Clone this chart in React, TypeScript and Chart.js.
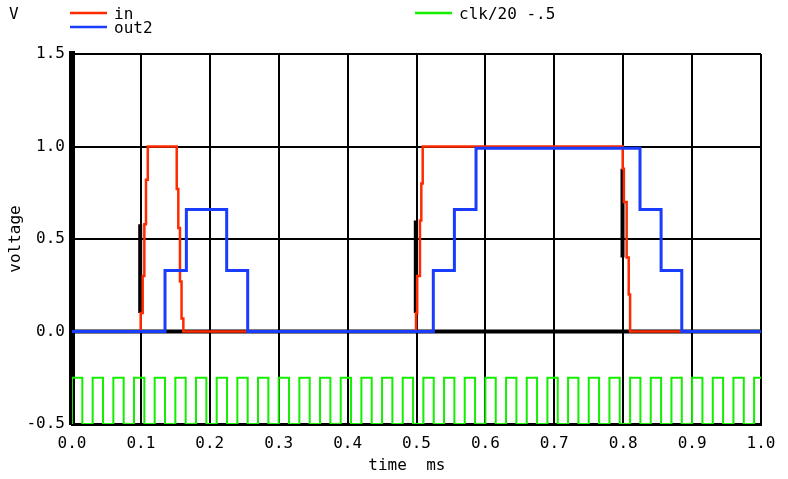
import React, { useEffect, useRef } from "react";
import { Chart, registerables } from "chart.js";

Chart.register(...registerables);

// ---- data ----
const xTickValues = [0, 0.1, 0.2, 0.3, 0.4, 0.5, 0.6, 0.7, 0.8, 0.9, 1.0];
const xTickLabels = ["0.0", "0.1", "0.2", "0.3", "0.4", "0.5", "0.6", "0.7", "0.8", "0.9", "1.0"];
const yTickValues = [-0.5, 0, 0.5, 1.0, 1.5];
const yTickLabels = ["-0.5", "0.0", "0.5", "1.0", "1.5"];

const seriesLabels = ["in", "out2", "clk/20 -.5"];

// "in": time (ms) at which the value changes, and the new value
const inTimes = [0, 0.0997, 0.1026, 0.105, 0.1074, 0.11, 0.152, 0.1543, 0.1567, 0.159, 0.1616, 0.4993, 0.501, 0.505, 0.507, 0.509, 0.7993, 0.801, 0.805, 0.808, 0.81, 1.0];
const inValues = [0, 0.1, 0.3, 0.58, 0.82, 1.0, 0.77, 0.56, 0.27, 0.07, 0, 0.1, 0.3, 0.6, 0.8, 1.0, 0.88, 0.7, 0.4, 0.2, 0, 0];

// "out2"
const out2Times = [0, 0.135, 0.166, 0.2245, 0.255, 0.5244, 0.555, 0.5864, 0.8244, 0.855, 0.885, 1.0];
const out2Values = [0, 0.33, 0.66, 0.33, 0, 0.33, 0.66, 0.99, 0.66, 0.33, 0, 0];

// "clk": edges (ms) and raw level
const clkTimes = [0, 0, 0.015, 0.03, 0.045, 0.06, 0.075, 0.09, 0.105, 0.12, 0.135, 0.15, 0.165, 0.18, 0.195, 0.21, 0.225, 0.24, 0.255, 0.27, 0.285, 0.3, 0.315, 0.33, 0.345, 0.36, 0.375, 0.39, 0.405, 0.42, 0.435, 0.45, 0.465, 0.48, 0.495, 0.51, 0.525, 0.54, 0.555, 0.57, 0.585, 0.6, 0.615, 0.63, 0.645, 0.66, 0.675, 0.69, 0.705, 0.72, 0.735, 0.75, 0.765, 0.78, 0.795, 0.81, 0.825, 0.84, 0.855, 0.87, 0.885, 0.9, 0.915, 0.93, 0.945, 0.96, 0.975, 0.99, 1.0];
const clkLevels = [0, 5, 0, 5, 0, 5, 0, 5, 0, 5, 0, 5, 0, 5, 0, 5, 0, 5, 0, 5, 0, 5, 0, 5, 0, 5, 0, 5, 0, 5, 0, 5, 0, 5, 0, 5, 0, 5, 0, 5, 0, 5, 0, 5, 0, 5, 0, 5, 0, 5, 0, 5, 0, 5, 0, 5, 0, 5, 0, 5, 0, 5, 0, 5, 0, 5, 0, 5, 5];

// black underlying trace: zero line, plus short vertical pieces (null = break)
const baseTimes = [0, 1.0];
const baseValues = [0, 0];
const spikeTimes = [0.099, 0.099, 0.099, 0.499, 0.499, 0.499, 0.799, 0.799];
const spikeValues = [0.1, 0.58, null, 0.1, 0.6, null, 0.88, 0.4];

const FONT = '"DejaVu Sans Mono", monospace';

const legendPlugin = {
  id: "spiceLegend",
  afterDraw(chart: any) {
    const ctx = chart.ctx as CanvasRenderingContext2D;
    ctx.save();
    ctx.font = `16px ${FONT}`;
    ctx.fillStyle = "#000";
    ctx.textBaseline = "middle";
    ctx.textAlign = "left";
    ctx.fillText("V", 9, 15);
    const entries = [
      { ds: 0, x: 70, y: 13, ty: 15 },
      { ds: 1, x: 70, y: 27, ty: 29 },
      { ds: 2, x: 415, y: 13, ty: 15 },
    ];
    for (const e of entries) {
      const d = chart.data.datasets[e.ds];
      ctx.strokeStyle = d.borderColor;
      ctx.lineWidth = 2.5;
      ctx.beginPath();
      ctx.moveTo(e.x, e.y);
      ctx.lineTo(e.x + 37, e.y);
      ctx.stroke();
      ctx.fillStyle = "#000";
      ctx.fillText(d.label, e.x + 44, e.ty);
    }
    ctx.restore();
  },
};

export default function App() {
  const ref = useRef<HTMLCanvasElement | null>(null);
  useEffect(() => {
    if (!ref.current) return;
    const chart = new Chart(ref.current, {
      type: "line",
      data: {
        datasets: [
          {
            label: seriesLabels[0],
            data: inTimes.map((t, i) => ({ x: t, y: inValues[i] })),
            borderColor: "#ff2a00",
            borderWidth: 2.5,
            stepped: "before",
            pointRadius: 0,
            order: 1,
          },
          {
            label: seriesLabels[1],
            data: out2Times.map((t, i) => ({ x: t, y: out2Values[i] })),
            borderColor: "#1a3cff",
            borderWidth: 3,
            stepped: "before",
            pointRadius: 0,
            order: 0,
          },
          {
            label: seriesLabels[2],
            data: clkTimes.map((t, i) => ({ x: t, y: clkLevels[i] / 20 - 0.5 })),
            borderColor: "#14ee00",
            borderWidth: 2,
            stepped: "before",
            pointRadius: 0,
            order: 2,
          },
          {
            label: "",
            data: baseTimes.map((t, i) => ({ x: t, y: baseValues[i] })),
            borderColor: "#000000",
            borderWidth: 4,
            pointRadius: 0,
            order: 3,
          },
          {
            label: "",
            data: spikeTimes.map((t, i) => ({ x: t, y: spikeValues[i] as any })),
            borderColor: "#000000",
            borderWidth: 4,
            pointRadius: 0,
            spanGaps: false,
            order: 4,
          },
        ],
      },
      plugins: [legendPlugin],
      options: {
        animation: false,
        responsive: false,
        maintainAspectRatio: false,
        events: [],
        layout: { padding: { left: 0, right: 27, top: 54, bottom: 0 } },
        plugins: {
          legend: { display: false },
          tooltip: { enabled: false },
          title: { display: false },
        },
        scales: {
          x: {
            type: "linear",
            min: 0,
            max: 1,
            afterBuildTicks: (s: any) => {
              s.ticks = xTickValues.map((v) => ({ value: v }));
            },
            afterFit: (s: any) => {
              s.height = 55;
            },
            ticks: {
              autoSkip: false,
              maxRotation: 0,
              padding: 10,
              color: "#000",
              font: { family: FONT, size: 16 },
              callback: (v: any) => {
                const i = xTickValues.findIndex((t) => Math.abs(t - Number(v)) < 1e-9);
                return i >= 0 ? xTickLabels[i] : "";
              },
            },
            grid: { color: "#000", lineWidth: 2, drawTicks: false },
            border: { color: "#000", width: 3 },
            title: {
              display: true,
              text: "time  ms  ",
              color: "#000",
              font: { family: FONT, size: 16 },
              padding: { top: 0, bottom: 4 },
            },
          },
          y: {
            type: "linear",
            min: -0.5,
            max: 1.5,
            afterBuildTicks: (s: any) => {
              s.ticks = yTickValues.map((v) => ({ value: v }));
            },
            afterFit: (s: any) => {
              s.width = 72;
            },
            ticks: {
              padding: 7,
              color: "#000",
              font: { family: FONT, size: 16 },
              callback: (v: any) => {
                const i = yTickValues.findIndex((t) => Math.abs(t - Number(v)) < 1e-9);
                return i >= 0 ? yTickLabels[i] : "";
              },
            },
            grid: { color: "#000", lineWidth: 2, drawTicks: false },
            border: { color: "#000", width: 6 },
            title: {
              display: true,
              text: "voltage",
              color: "#000",
              font: { family: FONT, size: 16 },
              padding: { top: 6, bottom: 0 },
            },
          },
        },
      } as any,
    });
    return () => chart.destroy();
  }, []);
  return (
    <div style={{ position: "absolute", left: 0, top: 0, width: 788, height: 479, background: "#fff" }}>
      <canvas ref={ref} width={788} height={479} style={{ width: 788, height: 479 }} />
    </div>
  );
}
